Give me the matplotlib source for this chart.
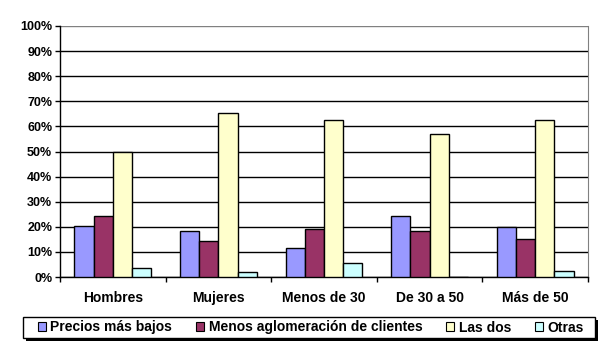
import matplotlib.pyplot as plt
import numpy as np
from matplotlib.patches import Patch, Rectangle

plt.rcParams["font.family"] = ["Liberation Sans", "DejaVu Sans"]
plt.rcParams["font.weight"] = "bold"

categories = ["Hombres", "Mujeres", "Menos de 30", "De 30 a 50", "Más de 50"]
series_names = ["Precios más bajos", "Menos aglomeración de clientes", "Las dos", "Otras"]
precios = [20.4, 18.2, 11.4, 24.2, 20.0]
aglomeracion = [24.2, 14.2, 19.0, 18.2, 15.1]
las_dos = [50.0, 65.3, 62.5, 56.9, 62.5]
otras = [3.6, 1.9, 5.5, 0.0, 2.3]
colors = ["#9999FF", "#993366", "#FFFFCC", "#CCFFFF"]

values = [precios, aglomeracion, las_dos, otras]

W, H = 600, 353
fig = plt.figure(figsize=(W / 100, H / 100), dpi=100)
ax = fig.add_axes([60 / W, 1 - 277 / H, 528 / W, 251 / H])

n = len(values)
w = 1 / (n + 1.5)
x = np.arange(len(categories))
for i, (vals, c) in enumerate(zip(values, colors)):
    ax.bar(x - n * w / 2 + i * w, vals, width=w, align="edge", color=c,
           edgecolor="black", linewidth=1, zorder=3)

ax.set_xlim(-0.5, len(categories) - 0.5)
ax.set_ylim(0, 100)
ax.set_yticks(range(0, 101, 10))
ax.set_yticklabels(["{}%".format(v) for v in range(0, 101, 10)], fontsize=9, fontweight="bold")
ax.yaxis.grid(True, color="black", linewidth=1, zorder=0)
ax.get_ygridlines()[-1].set_color("#808080")

ax.set_xticks(np.arange(-0.5, len(categories), 1))
ax.set_xticklabels([])
ax.set_xticks(x, minor=True)
ax.set_xticklabels(categories, minor=True, fontsize=10, fontweight="bold")
ax.tick_params(axis="x", which="minor", length=0, pad=10)
ax.tick_params(axis="x", which="major", length=3.6, width=1, direction="out")
ax.tick_params(axis="y", length=3.6, width=1, pad=2)

ax.spines["top"].set_visible(False)
ax.spines["right"].set_color("#808080")
ax.spines["left"].set_linewidth(1)
ax.spines["bottom"].set_linewidth(1)

# legend box with shadow (drawn by hand)
bx0, by0, bx1, by1 = 23, 317, 595, 338
fig.patches.append(Rectangle((bx0 / W + 3 / W, 1 - by1 / H - 3 / H), (bx1 - bx0) / W, (by1 - by0) / H,
                             transform=fig.transFigure, facecolor="black", edgecolor="none", zorder=1))
fig.patches.append(Rectangle((bx0 / W, 1 - by1 / H), (bx1 - bx0) / W, (by1 - by0) / H,
                             transform=fig.transFigure, facecolor="white", edgecolor="black",
                             linewidth=1, zorder=2))

handles = [Patch(facecolor=c, edgecolor="black", linewidth=0.8) for c in colors]
leg = fig.legend(handles, series_names, loc="center left", ncol=4,
                 bbox_to_anchor=(38 / W, 1 - 327.5 / H, 546 / W, 0), mode="expand",
                 fontsize=10, frameon=False, borderpad=0, borderaxespad=0,
                 handlelength=0.55, handleheight=0.55, handletextpad=0.35,
                 columnspacing=1.0)
leg.set_zorder(3)
for t in leg.get_texts():
    t.set_fontweight("bold")

plt.savefig("out.png", dpi=100)
